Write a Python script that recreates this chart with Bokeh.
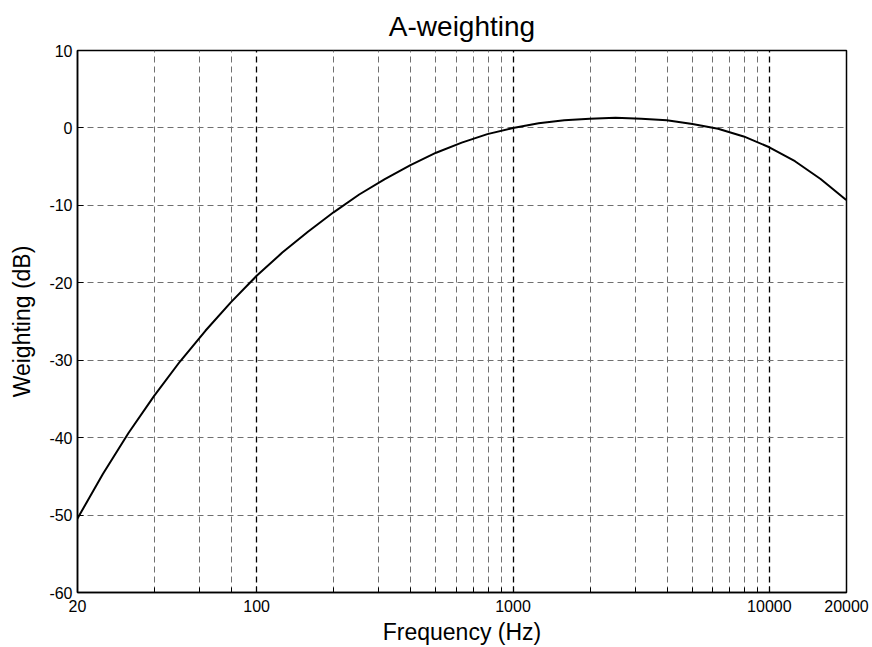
from bokeh.plotting import figure
from bokeh.models import FixedTicker, Grid, Range1d
from bokeh.embed import file_html
from bokeh.resources import INLINE

# Exact one-third-octave band centre frequencies (Hz) and A-weighting (dB)
freq_hz = [19.95, 25.12, 31.62, 39.81, 50.12, 63.10, 79.43, 100.0, 125.9,
           158.5, 199.5, 251.2, 316.2, 398.1, 501.2, 631.0, 794.3, 1000.0,
           1259.0, 1585.0, 1995.0, 2512.0, 3162.0, 3981.0, 5012.0, 6310.0,
           7943.0, 10000.0, 12589.0, 15849.0, 19953.0]
weight_db = [-50.5, -44.7, -39.4, -34.6, -30.2, -26.2, -22.5, -19.1, -16.1,
             -13.4, -10.9, -8.6, -6.6, -4.8, -3.2, -1.9, -0.8, 0.0, 0.6, 1.0,
             1.2, 1.3, 1.2, 1.0, 0.5, -0.1, -1.1, -2.5, -4.3, -6.6, -9.3]

x_major = [20, 100, 1000, 10000, 20000]
x_minor = [40, 60, 80, 200, 300, 400, 500, 600, 700, 800, 900,
           2000, 3000, 4000, 5000, 6000, 7000, 8000, 9000]
x_decades = [100, 1000, 10000]
y_ticks = [-60, -50, -40, -30, -20, -10, 0, 10]

FONT = "Liberation Sans"

p = figure(width=872, height=647, x_axis_type="log",
           x_range=Range1d(20, 20000), y_range=Range1d(-60, 10),
           output_backend="svg", toolbar_location=None,
           title="A-weighting",
           min_border_left=77, min_border_right=26,
           min_border_top=50, min_border_bottom=51)

p.title.align = "center"
p.title.text_font = FONT
p.title.text_font_size = "28px"
p.title.text_font_style = "normal"
p.title.text_color = "black"
p.title.standoff = 17

p.background_fill_color = "white"
p.border_fill_color = "white"
p.outline_line_color = "black"
p.outline_line_width = 1.5
p.outline_line_alpha = 1.0

# dashed grids: grey for in-decade lines, black on decades
p.xgrid.visible = False
p.ygrid.visible = False

minor_grid = Grid(dimension=0, ticker=FixedTicker(ticks=x_minor),
                  grid_line_color="#707070", grid_line_dash="6 4",
                  grid_line_width=1)
decade_grid = Grid(dimension=0, ticker=FixedTicker(ticks=x_decades),
                   grid_line_color="black", grid_line_dash="6 4",
                   grid_line_width=1.3)
h_grid = Grid(dimension=1, ticker=FixedTicker(ticks=y_ticks[1:-1]),
              grid_line_color="#707070", grid_line_dash="6 4",
              grid_line_width=1)
p.add_layout(minor_grid)
p.add_layout(decade_grid)
p.add_layout(h_grid)

# axes
xa = p.xaxis[0]
xa.ticker = FixedTicker(ticks=x_major, minor_ticks=x_minor)
xa.major_label_overrides = {v: str(v) for v in x_major}
xa.axis_label = "Frequency (Hz)"
ya = p.yaxis[0]
ya.ticker = FixedTicker(ticks=y_ticks)
ya.major_label_overrides = {v: str(v) for v in y_ticks}
ya.axis_label = "Weighting (dB)"

for ax in (xa, ya):
    ax.axis_line_color = "black"
    ax.axis_line_width = 1.5
    ax.major_tick_in = 6
    ax.major_tick_out = 0
    ax.minor_tick_in = 5
    ax.minor_tick_out = 0
    ax.major_tick_line_color = "black"
    ax.minor_tick_line_color = "black"
    ax.major_label_text_font = FONT
    ax.major_label_text_font_size = "16px"
    ax.major_label_text_color = "black"
    ax.axis_label_text_font = FONT
    ax.axis_label_text_font_size = "23px"
    ax.axis_label_text_font_style = "normal"
    ax.axis_label_text_color = "black"

xa.major_label_standoff = 7
xa.axis_label_standoff = 4
ya.major_label_standoff = 5
ya.axis_label_standoff = 11

p.line(freq_hz, weight_db, line_color="black", line_width=2,
       line_join="round")

open("out.html", "w").write(file_html(p, INLINE))
